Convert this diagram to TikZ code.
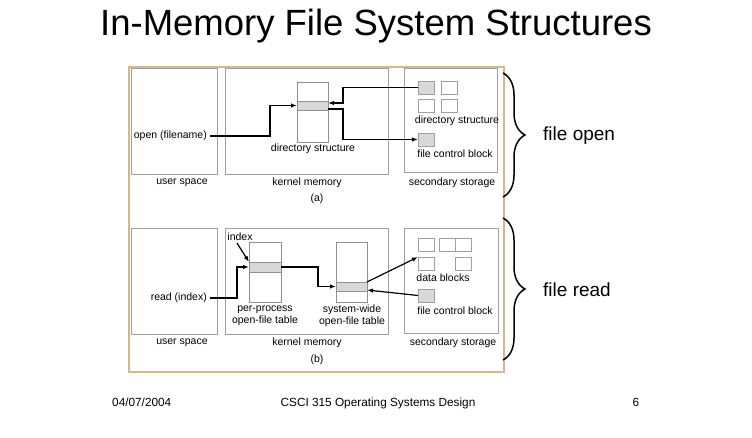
\documentclass[tikz,border=0pt]{standalone}
\usepackage{fontspec}
\setmainfont{Liberation Sans}
\usetikzlibrary{arrows.meta,decorations.pathreplacing}
\definecolor{frametan}{RGB}{212,184,140}
\definecolor{boxgray}{RGB}{160,160,160}
\definecolor{rowgray}{RGB}{216,216,216}
\tikzset{
  sbox/.style={draw=boxgray,line width=0.8pt,inner sep=0pt,outer sep=0pt,anchor=north west},
  tbl/.style={draw=boxgray!90!black,line width=0.8pt,fill=white,inner sep=0pt,outer sep=0pt,anchor=north west,minimum width=31pt,minimum height=60pt},
  trow/.style={draw=boxgray!90!black,line width=0.8pt,fill=rowgray,inner sep=0pt,outer sep=0pt,anchor=north west,minimum width=31pt,minimum height=9pt},
  sq/.style={draw=boxgray,line width=0.8pt,fill=white,inner sep=0pt,outer sep=0pt,anchor=north west,minimum width=16pt,minimum height=13pt},
  gsq/.style={sq,fill=rowgray},
  lbl/.style={font=\fontsize{10.5}{11.5}\selectfont,inner sep=0pt},
  arr/.style={-{Latex[length=6pt,width=4.5pt]},line width=1.2pt,black},
  curly/.style={decorate,decoration={brace,amplitude=22pt},line width=1.5pt,black},
  big/.style={font=\fontsize{19}{22}\selectfont,inner sep=0pt,anchor=west},
  foot/.style={font=\fontsize{11.8}{13}\selectfont,inner sep=0pt,anchor=base}
}
\begin{document}
\begin{tikzpicture}[x=1pt,y=-1pt]
\useasboundingbox (0,0) rectangle (752,438);
% title
\node[font=\fontsize{36.5}{40}\selectfont,inner sep=0pt,anchor=base] (title) at (376,36) {In-Memory File System Structures};
% ---------- panel (a) ----------
\node[sbox,minimum width=86pt,minimum height=106pt] (usa) at (131,68) {};
\node[sbox,minimum width=163pt,minimum height=106pt] (kma) at (225,68) {};
\node[sbox,minimum width=93pt,minimum height=104pt] (ssa) at (404,68) {};
\node[tbl] (dirt) at (297,82) {};
\node[trow] (dirrow) at (297,101) {};
\node[gsq] (g1) at (418,81) {};
\node[sq] (g2) at (441,81) {};
\node[sq] (g3) at (418,99) {};
\node[sq] (g4) at (441,99) {};
\node[gsq] (fcb1) at (418,133) {};
\node[lbl,anchor=east] (open) at (207,136) {open (filename)};
\node[lbl] (dsa) at (313,149) {directory structure};
\node[lbl] (dsb) at (457,121) {directory structure};
\node[lbl] (fcbla) at (455,154) {file control block};
\node[lbl] (usla) at (182,183) {user space};
\node[lbl] (kmla) at (307,183) {kernel memory};
\node[lbl] (ssla) at (452,183) {secondary storage};
\node[lbl] (capa) at (317,199) {(a)};
\coordinate (dirin) at ([yshift=2.5pt]dirrow.east);
\coordinate (dirout) at ([yshift=-3.5pt]dirrow.east);
\coordinate (jb) at ([xshift=15pt]dirrow.east);
\coordinate (opst) at ([xshift=3pt]open.east);
\draw[arr] (opst) -| ([xshift=-27pt]dirrow.west) -- (dirrow.west);
\draw[arr] (g1.west) -| (jb |- dirin) -- (dirin);
\draw[arr] (dirout) -| (jb |- fcb1.west) -- (fcb1.west);
% ---------- panel (b) ----------
\node[sbox,minimum width=86pt,minimum height=106pt] (usb) at (131,228) {};
\node[sbox,minimum width=163pt,minimum height=106pt] (kmb) at (225,228) {};
\node[sbox,minimum width=94pt,minimum height=105pt] (ssb) at (404,228) {};
\node[tbl,minimum width=32pt] (ppt) at (249,242) {};
\node[trow,minimum width=32pt,minimum height=10pt] (pprow) at (249,262) {};
\node[tbl] (swt) at (336,242) {};
\node[trow] (swrow) at (336,282) {};
\node[sq] (db1) at (418,238) {};
\node[sq] (db2) at (439,238) {};
\node[sq] (db3) at (455,238) {};
\node[sq] (db4) at (418,257) {};
\node[sq] (db5) at (455,257) {};
\node[gsq] (fcb2) at (418,289) {};
\node[lbl] (idx) at (240,237) {index};
\node[lbl,anchor=east] (read) at (207,298) {read (index)};
\node[lbl,align=center] (ppl) at (265,316) {per-process\\open-file table};
\node[lbl,align=center] (swl) at (352,316) {system-wide\\open-file table};
\node[lbl] (dbl) at (443,278) {data blocks};
\node[lbl] (fcblb) at (455,311) {file control block};
\node[lbl] (uslb) at (182,343) {user space};
\node[lbl] (kmlb) at (307,343) {kernel memory};
\node[lbl] (sslb) at (453,343) {secondary storage};
\node[lbl] (capb) at (317,360) {(b)};
\coordinate (rdst) at ([xshift=3pt]read.east);
\draw[arr] ([xshift=-3pt,yshift=-2pt]idx.south) -- (pprow.north west);
\draw[arr] (rdst) -| ([xshift=-12pt]pprow.west) -- (pprow.west);
\draw[arr] (pprow.east) -| ([xshift=-18pt]swrow.west) -- (swrow.west);
\draw[arr] (swrow.north east) -- (db4.north west);
\draw[arr] (fcb2.west) -- ([yshift=1pt]swrow.south east);
% frame
\node[draw=frametan,line width=2.2pt,inner sep=0pt,anchor=north west,minimum width=375pt,minimum height=305pt] (frame) at (128,66) {};
% braces
\coordinate (bas) at (503,73);
\coordinate (bae) at (503,197);
\coordinate (bbs) at (503,218);
\coordinate (bbe) at (503,360);
\draw[curly] (bas) -- (bae);
\draw[curly] (bbs) -- (bbe);
\node[big] (fo) at (543,136) {file open};
\node[big] (fr) at (543,290) {file read};
% footer
\node[foot,anchor=base west] (date) at (112,406) {04/07/2004};
\node[foot] (course) at (378,406) {CSCI 315 Operating Systems Design};
\node[foot] (pg) at (636,406) {6};
\end{tikzpicture}
\end{document}
